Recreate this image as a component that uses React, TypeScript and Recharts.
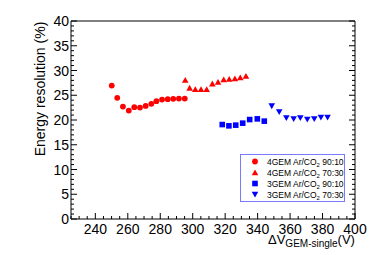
import { ScatterChart, Scatter, XAxis, YAxis, Legend } from "recharts";

const FONT = '"Liberation Sans", Arial, Helvetica, sans-serif';

// 4GEM Ar/CO2 90:10
const v4gem9010 = [250.1, 253.5, 257.0, 260.6, 264.0, 267.5, 271.0, 274.5, 277.6, 281.1, 284.6, 288.0, 291.5, 295.1];
const res4gem9010 = [26.95, 24.47, 22.71, 21.91, 22.59, 22.51, 22.85, 23.26, 23.8, 24.12, 24.21, 24.27, 24.33, 24.33];
// 4GEM Ar/CO2 70:30
const v4gem7030 = [295.4, 298.1, 301.6, 305.1, 308.6, 312.1, 315.6, 319.1, 322.5, 326.0, 329.3, 332.8];
const res4gem7030 = [28.1, 26.5, 26.2, 26.2, 26.2, 27.35, 27.7, 28.2, 28.3, 28.4, 28.6, 28.9];
// 3GEM Ar/CO2 90:10
const v3gem9010 = [318.2, 322.3, 326.5, 330.8, 335.1, 339.8, 344.1];
const res3gem9010 = [19.08, 18.82, 18.96, 19.36, 20.09, 20.23, 19.77];
// 3GEM Ar/CO2 70:30
const v3gem7030 = [348.7, 353.3, 357.7, 362.2, 366.3, 370.6, 374.9, 379.0, 383.1];
const res3gem7030 = [22.8, 21.6, 20.4, 20.2, 20.4, 20.1, 20.2, 20.5, 20.5];

const xMajor = [240, 260, 280, 300, 320, 340, 360, 380, 400];
const yMajor = [0, 5, 10, 15, 20, 25, 30, 35, 40];
const xTicks = Array.from({ length: 36 }, (_, i) => 225 + 5 * i);
const yTicks = Array.from({ length: 41 }, (_, i) => i);

type Kind = "circle" | "triangle" | "square" | "triangleDown";

const series: { name: string; gem: string; mix: string; kind: Kind; color: string; xs: number[]; ys: number[] }[] = [
  { name: "4GEM 90:10", gem: "4GEM", mix: "90:10", kind: "circle", color: "#ff0000", xs: v4gem9010, ys: res4gem9010 },
  { name: "4GEM 70:30", gem: "4GEM", mix: "70:30", kind: "triangle", color: "#ff0000", xs: v4gem7030, ys: res4gem7030 },
  { name: "3GEM 90:10", gem: "3GEM", mix: "90:10", kind: "square", color: "#0000ff", xs: v3gem9010, ys: res3gem9010 },
  { name: "3GEM 70:30", gem: "3GEM", mix: "70:30", kind: "triangleDown", color: "#0000ff", xs: v3gem7030, ys: res3gem7030 },
];

function marker(kind: Kind, cx: number, cy: number, color: string) {
  if (kind === "circle") return <circle cx={cx} cy={cy} r={2.9} fill={color} />;
  if (kind === "square") return <rect x={cx - 2.8} y={cy - 2.8} width={5.6} height={5.6} fill={color} />;
  if (kind === "triangle")
    return <polygon points={`${cx},${cy - 3} ${cx - 3.3},${cy + 2.8} ${cx + 3.3},${cy + 2.8}`} fill={color} />;
  return <polygon points={`${cx},${cy + 3} ${cx - 3.3},${cy - 2.8} ${cx + 3.3},${cy - 2.8}`} fill={color} />;
}

const BottomTick = ({ x, y, payload }: any) => {
  const major = xMajor.includes(payload.value);
  return (
    <g>
      <line x1={x} x2={x} y1={y} y2={y - (major ? 6 : 3)} stroke="#000" />
      {major && (
        <text x={x} y={y + 15} textAnchor="middle" fontSize={14} fontFamily={FONT} fill="#000">
          {payload.value}
        </text>
      )}
    </g>
  );
};

const TopTick = ({ x, y, payload }: any) => {
  const major = xMajor.includes(payload.value);
  return <line x1={x} x2={x} y1={y} y2={y + (major ? 6 : 3)} stroke="#000" />;
};

const LeftTick = ({ x, y, payload }: any) => {
  const major = yMajor.includes(payload.value);
  return (
    <g>
      <line x1={x} x2={x + (major ? 6 : 3)} y1={y} y2={y} stroke="#000" />
      {major && (
        <text x={x - 2} y={y + 5} textAnchor="end" fontSize={14} fontFamily={FONT} fill="#000">
          {payload.value}
        </text>
      )}
    </g>
  );
};

const RightTick = ({ x, y, payload }: any) => {
  const major = yMajor.includes(payload.value);
  return <line x1={x} x2={x - (major ? 6 : 3)} y1={y} y2={y} stroke="#000" />;
};

const LegendBox = () => (
  <div
    style={{
      width: 103,
      height: 45,
      border: "1px solid #7a7aff",
      background: "#fff",
      fontFamily: FONT,
      fontSize: 8.5,
      color: "#000",
      boxSizing: "content-box",
      paddingTop: 1,
    }}
  >
    {series.map((s) => (
      <div key={s.name} style={{ display: "flex", alignItems: "center", height: 11, whiteSpace: "nowrap" }}>
        <svg width={26} height={11} style={{ flex: "none" }}>
          {marker(s.kind, 14, 5.5, s.color)}
        </svg>
        <span>
          {s.gem} Ar/CO<sub style={{ fontSize: 6, verticalAlign: -2, lineHeight: 0 }}>2</sub> {s.mix}
        </span>
      </div>
    ))}
  </div>
);

export default function App() {
  return (
    <div style={{ position: "absolute", left: 0, top: 0, width: 374, height: 255, background: "#fff" }}>
      <ScatterChart width={374} height={255} margin={{ top: 20, right: 18, bottom: 6, left: 31 }}>
        <XAxis
          type="number"
          dataKey="x"
          domain={[225, 400]}
          ticks={xTicks}
          interval={0}
          allowDataOverflow
          height={30}
          tickSize={0}
          tickMargin={0}
          tick={<BottomTick />}
          axisLine={{ stroke: "#000" }}
          label={() => (
            <text x={268} y={244} fontFamily={FONT} fill="#000">
              <tspan fontSize={13}>ΔV</tspan>
              <tspan fontSize={10} dy={3}>GEM-single</tspan>
              <tspan fontSize={13} dy={-3}>(V)</tspan>
            </text>
          )}
        />
        <XAxis
          xAxisId="top"
          orientation="top"
          type="number"
          domain={[225, 400]}
          ticks={xTicks}
          interval={0}
          allowDataOverflow
          height={1}
          tickSize={0}
          tickMargin={0}
          tick={<TopTick />}
          axisLine={{ stroke: "#000" }}
        />
        <YAxis
          type="number"
          dataKey="y"
          domain={[0, 40]}
          ticks={yTicks}
          interval={0}
          allowDataOverflow
          width={40}
          tickSize={0}
          tickMargin={0}
          tick={<LeftTick />}
          axisLine={{ stroke: "#000" }}
          label={() => (
            <text
              x={44.5}
              y={89}
              transform="rotate(-90, 44.5, 89)"
              textAnchor="middle"
              fontSize={14}
              fontFamily={FONT}
              fill="#000"
            >
              Energy resolution (%)
            </text>
          )}
        />
        <YAxis
          yAxisId="right"
          orientation="right"
          type="number"
          domain={[0, 40]}
          ticks={yTicks}
          interval={0}
          allowDataOverflow
          width={1}
          tickSize={0}
          tickMargin={0}
          tick={<RightTick />}
          axisLine={{ stroke: "#000" }}
        />
        {series.map((s) => (
          <Scatter
            key={s.name}
            name={s.name}
            data={s.xs.map((x, i) => ({ x, y: s.ys[i] }))}
            fill={s.color}
            isAnimationActive={false}
            shape={(p: any) => marker(s.kind, p.cx, p.cy, s.color)}
          />
        ))}
        <Legend
          layout="vertical"
          align="center"
          verticalAlign="middle"
          content={() => <LegendBox />}
          wrapperStyle={{ position: "absolute", left: 240, top: 154, width: "auto", margin: 0 }}
        />
      </ScatterChart>
    </div>
  );
}
